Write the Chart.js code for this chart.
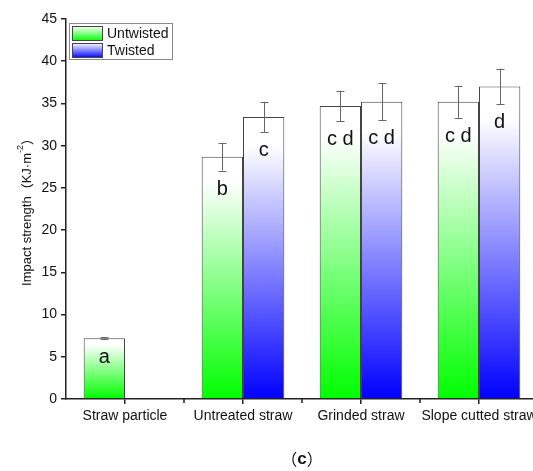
<!DOCTYPE html>
<html>
<head>
<meta charset="utf-8">
<script src="https://cdn.jsdelivr.net/npm/chart.js@4.4.1/dist/chart.umd.min.js"></script>
<style>
html, body { margin: 0; padding: 0; overflow: hidden; background: #fff; }
</style>
</head>
<body>
<canvas id="impact" width="548" height="471"></canvas>
<script>
// data
const categories = ['Straw particle', 'Untreated straw', 'Grinded straw', 'Slope cutted straw'];
const untwisted = [7.2, 28.7, 34.7, 35.2];
const untwistedErr = [0.1, 1.65, 1.8, 1.9];
const untwistedLetters = ['a', 'b', 'c d', 'c d'];
const twisted = [null, 33.4, 35.2, 37.0];
const twistedErr = [null, 1.8, 2.2, 2.1];
const twistedLetters = ['', 'c', 'c d', 'd'];
const yMax = 45;
const yStep = 5;
const caption = 'c';

const FONT = '"Liberation Sans", Arial, sans-serif';
const CJK = '"Noto Sans CJK SC"';
const GREEN = '#00ff00';
const BLUE = '#0000ff';

function barFill(base) {
  return function (ctx) {
    const chart = ctx.chart;
    if (!chart.chartArea || ctx.type !== 'data' || !ctx.parsed || ctx.parsed.y == null) return base;
    const ys = chart.scales.y;
    const g = chart.ctx.createLinearGradient(0, ys.getPixelForValue(0), 0, ys.getPixelForValue(ctx.parsed.y));
    g.addColorStop(0, base);
    g.addColorStop(0.9, '#ffffff');
    g.addColorStop(1, '#ffffff');
    return g;
  };
}

const errs = [untwistedErr, twistedErr];
const letters = [untwistedLetters, twistedLetters];

// draws text pieces one after the other, each with its own font and y shift
function drawPieces(c, parts, cx, cy) {
  let total = 0;
  parts.forEach(p => { c.font = p[1]; total += c.measureText(p[0]).width; });
  let xx = cx - total / 2;
  c.textAlign = 'left';
  parts.forEach(p => {
    c.font = p[1];
    c.fillText(p[0], xx, cy + p[2]);
    xx += c.measureText(p[0]).width;
  });
}

const extras = {
  id: 'extras',
  afterDatasetsDraw(chart) {
    const c = chart.ctx;
    const ys = chart.scales.y;
    c.save();
    chart.data.datasets.forEach((ds, di) => {
      const meta = chart.getDatasetMeta(di);
      meta.data.forEach((bar, i) => {
        const v = ds.data[i];
        if (v == null) return;
        const e = errs[di][i];
        const yt = ys.getPixelForValue(v + e);
        const yb = ys.getPixelForValue(v - e);
        const x = Math.round(bar.x) + 0.5;
        c.strokeStyle = '#666';
        c.lineWidth = 1;
        c.beginPath();
        c.moveTo(x, yt); c.lineTo(x, yb);
        c.moveTo(x - 4, Math.round(yt) + 0.5); c.lineTo(x + 4, Math.round(yt) + 0.5);
        c.moveTo(x - 4, Math.round(yb) + 0.5); c.lineTo(x + 4, Math.round(yb) + 0.5);
        c.stroke();
        c.fillStyle = '#111';
        c.font = '20px ' + FONT;
        c.textAlign = 'center';
        c.textBaseline = 'alphabetic';
        c.fillText(letters[di][i], bar.x, yb + 24);
      });
    });
    c.restore();
  },
  afterDraw(chart) {
    const c = chart.ctx;
    const xs = chart.scales.x;
    const area = chart.chartArea;
    c.save();
    // minor ticks between categories
    c.strokeStyle = '#222';
    c.lineWidth = 1.5;
    c.beginPath();
    for (let i = 0; i < categories.length; i++) {
      const xm = Math.round((xs.getPixelForValue(i) + xs.getPixelForValue(i + 1)) / 2);
      c.moveTo(xm, area.bottom); c.lineTo(xm, area.bottom + 4);
    }
    c.stroke();

    // legend
    c.fillStyle = '#fff';
    c.fillRect(69.5, 23.5, 103, 36);
    c.strokeStyle = '#888';
    c.lineWidth = 1;
    c.strokeRect(69.5, 23.5, 103, 36);
    const items = [[chart.data.datasets[0].label, GREEN], [chart.data.datasets[1].label, BLUE]];
    items.forEach((it, k) => {
      const y0 = 26 + k * 17;
      const g = c.createLinearGradient(0, y0 + 15, 0, y0);
      g.addColorStop(0, it[1]);
      g.addColorStop(1, '#ffffff');
      c.fillStyle = g;
      c.fillRect(72.5, y0 + 0.5, 30, 14);
      c.strokeStyle = '#444';
      c.strokeRect(72.5, y0 + 0.5, 30, 14);
      c.fillStyle = '#111';
      c.font = '14px ' + FONT;
      c.textAlign = 'left';
      c.textBaseline = 'middle';
      c.fillText(it[0], 107, y0 + 8);
    });

    // y axis title with superscript
    c.translate(27, (area.top + area.bottom) / 2);
    c.rotate(-Math.PI / 2);
    c.fillStyle = '#111';
    c.textBaseline = 'middle';
    const big = '13px ' + FONT, small = '9px ' + FONT, paren = '13px ' + CJK;
    drawPieces(c, [['Impact strength', big, 0], ['（', paren, 0], ['KJ·m', big, 0], ['-2', small, -6], ['）', paren, 0]], 0, 0);
    c.setTransform(1, 0, 0, 1, 0, 0);

    // caption
    c.textBaseline = 'middle';
    c.fillStyle = '#111';
    drawPieces(c, [['（', '16px ' + CJK, 0], [caption, 'bold 17px ' + FONT, 0], ['）', '16px ' + CJK, 0]], (area.left + area.right) / 2, 459);
    c.restore();
  }
};

new Chart(document.getElementById('impact'), {
  type: 'bar',
  data: {
    labels: categories,
    datasets: [
      {
        label: 'Untwisted',
        data: untwisted,
        backgroundColor: barFill(GREEN),
        borderColor: '#444',
        borderWidth: 1,
        categoryPercentage: 0.7,
        barPercentage: 1.0
      },
      {
        label: 'Twisted',
        data: twisted,
        backgroundColor: barFill(BLUE),
        borderColor: '#444',
        borderWidth: 1,
        categoryPercentage: 0.7,
        barPercentage: 1.0
      }
    ]
  },
  options: {
    responsive: false,
    animation: false,
    devicePixelRatio: 1,
    layout: { padding: { left: 0, top: 19, right: 10, bottom: 0 } },
    plugins: {
      legend: { display: false },
      tooltip: { enabled: false }
    },
    scales: {
      x: {
        grid: { display: true, drawOnChartArea: false, drawTicks: true, tickLength: 5, offset: false, color: '#222', lineWidth: 1.5 },
        border: { display: true, color: '#222', width: 1.5 },
        ticks: { color: '#111', font: { family: FONT, size: 14 }, padding: 4, maxRotation: 0, autoSkip: false },
        afterFit(scale) { scale.height = 72; }
      },
      y: {
        min: 0,
        max: yMax,
        grid: { display: true, drawOnChartArea: false, drawTicks: true, tickLength: 5, color: '#222', lineWidth: 1.5 },
        border: { display: true, color: '#222', width: 1.5 },
        ticks: { stepSize: yStep, color: '#111', font: { family: FONT, size: 14 }, padding: 4 },
        afterFit(scale) { scale.width = 66; }
      }
    }
  },
  plugins: [extras]
});
</script>
</body>
</html>
